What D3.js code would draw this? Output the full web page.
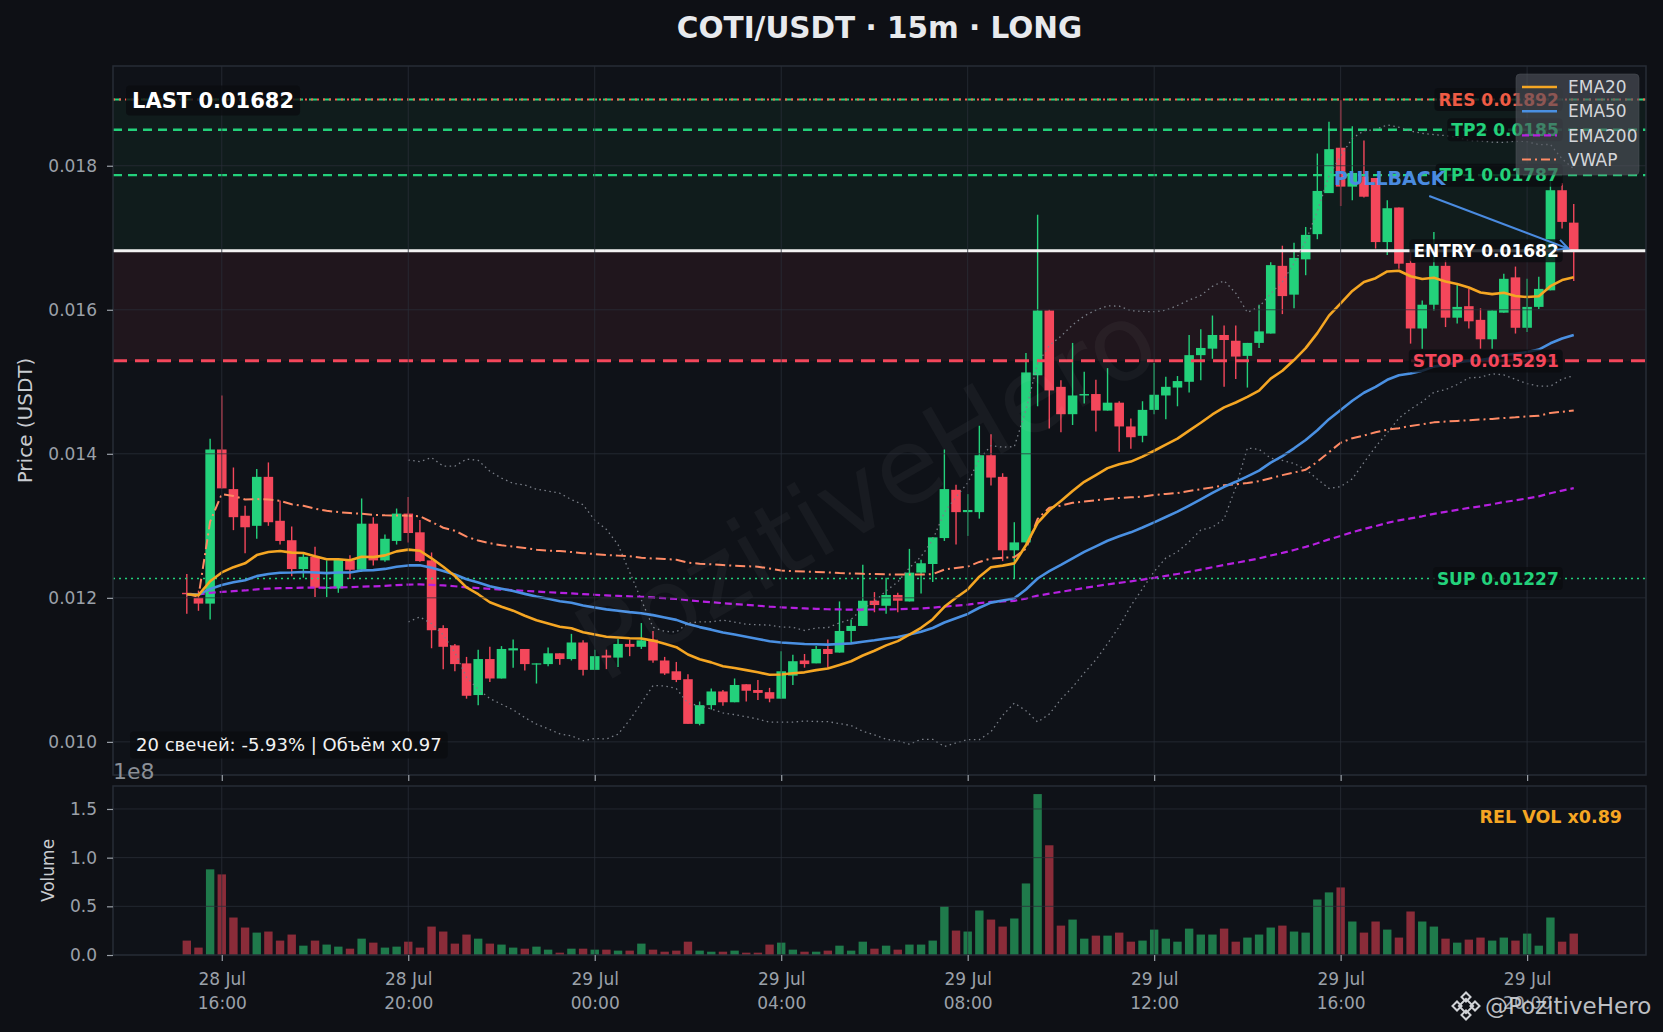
<!DOCTYPE html>
<html>
<head>
<meta charset="utf-8">
<title>COTI/USDT · 15m · LONG</title>
<script src="https://cdn.jsdelivr.net/npm/d3@7"></script>
<style>
  html, body { margin: 0; padding: 0; background: #0e1015; }
  svg { display: block; font-family: "DejaVu Sans", sans-serif; }
</style>
</head>
<body>
<svg id="chart" width="1663" height="1032"></svg>
<script>
// ---- data ----
const START = new Date(2025, 6, 28, 15, 15);   // first candle, 28 Jul 15:15
const STEP = 15 * 60 * 1000;                   // 15m candles

const opens = [
  0.01207, 0.01200, 0.01192, 0.01406, 0.01351, 0.01314, 0.01300, 0.01368, 0.01307, 0.01280,
  0.01240, 0.01257, 0.01213, 0.01213, 0.01252, 0.01239, 0.01303, 0.01252, 0.01279, 0.01317,
  0.01291, 0.01252, 0.01158, 0.01134, 0.01109, 0.01065, 0.01115, 0.01088, 0.01127, 0.01129,
  0.01108, 0.01108, 0.01123, 0.01115, 0.01138, 0.01100, 0.01120, 0.01117, 0.01136, 0.01132,
  0.01142, 0.01113, 0.01098, 0.01087, 0.01025, 0.01051, 0.01070, 0.01055, 0.01080, 0.01072,
  0.01069, 0.01060, 0.01092, 0.01113, 0.01109, 0.01129, 0.01124, 0.01154, 0.01161, 0.01196,
  0.01189, 0.01204, 0.01195, 0.01235, 0.01247, 0.01283, 0.01350, 0.01319, 0.01319, 0.01398,
  0.01368, 0.01266, 0.01277, 0.01509, 0.01599, 0.01493, 0.01455, 0.01481, 0.01483, 0.01460,
  0.01471, 0.01438, 0.01425, 0.01461, 0.01481, 0.01492, 0.01500, 0.01537, 0.01546, 0.01565,
  0.01557, 0.01536, 0.01554, 0.01567, 0.01661, 0.01621, 0.01670, 0.01705, 0.01762, 0.01825,
  0.01771, 0.01785, 0.01783, 0.01694, 0.01742, 0.01665, 0.01574, 0.01607, 0.01661, 0.01589,
  0.01605, 0.01586, 0.01559, 0.01596, 0.01645, 0.01575, 0.01604, 0.01627, 0.01766, 0.01721
];
const highs = [
  0.01233, 0.01210, 0.01421, 0.01481, 0.01381, 0.01328, 0.01379, 0.01388, 0.01335, 0.01299,
  0.01261, 0.01271, 0.01252, 0.01254, 0.01259, 0.01338, 0.01312, 0.01288, 0.01324, 0.01340,
  0.01308, 0.01263, 0.01162, 0.01136, 0.01118, 0.01128, 0.01132, 0.01133, 0.01142, 0.01129,
  0.01109, 0.01131, 0.01123, 0.01150, 0.01141, 0.01128, 0.01128, 0.01143, 0.01142, 0.01165,
  0.01154, 0.01118, 0.01111, 0.01094, 0.01056, 0.01074, 0.01072, 0.01088, 0.01080, 0.01086,
  0.01075, 0.01126, 0.01121, 0.01122, 0.01133, 0.01142, 0.01195, 0.01170, 0.01246, 0.01208,
  0.01228, 0.01207, 0.01268, 0.01253, 0.01284, 0.01406, 0.01357, 0.01344, 0.01439, 0.01427,
  0.01373, 0.01305, 0.01540, 0.01732, 0.01600, 0.01502, 0.01554, 0.01514, 0.01503, 0.01519,
  0.01473, 0.01449, 0.01473, 0.01526, 0.01507, 0.01508, 0.01565, 0.01573, 0.01592, 0.01578,
  0.01578, 0.01554, 0.01607, 0.01666, 0.01689, 0.01693, 0.01715, 0.01817, 0.01861, 0.01891,
  0.01855, 0.01835, 0.01783, 0.01752, 0.01742, 0.01683, 0.01613, 0.01708, 0.01669, 0.01635,
  0.01629, 0.01602, 0.01599, 0.01650, 0.01660, 0.01643, 0.01646, 0.01781, 0.01776, 0.01747
];
const lows = [
  0.01178, 0.01182, 0.01170, 0.01352, 0.01294, 0.01262, 0.01282, 0.01300, 0.01274, 0.01230,
  0.01228, 0.01201, 0.01201, 0.01207, 0.01226, 0.01236, 0.01245, 0.01250, 0.01274, 0.01277,
  0.01250, 0.01130, 0.01101, 0.01098, 0.01060, 0.01051, 0.01083, 0.01088, 0.01103, 0.01099,
  0.01081, 0.01105, 0.01107, 0.01113, 0.01092, 0.01100, 0.01101, 0.01104, 0.01119, 0.01129,
  0.01110, 0.01093, 0.01083, 0.01025, 0.01023, 0.01045, 0.01050, 0.01055, 0.01056, 0.01058,
  0.01055, 0.01060, 0.01079, 0.01103, 0.01109, 0.01103, 0.01124, 0.01138, 0.01161, 0.01180,
  0.01178, 0.01180, 0.01195, 0.01206, 0.01222, 0.01279, 0.01274, 0.01286, 0.01310, 0.01356,
  0.01251, 0.01227, 0.01277, 0.01466, 0.01435, 0.01430, 0.01440, 0.01470, 0.01431, 0.01460,
  0.01403, 0.01407, 0.01416, 0.01455, 0.01448, 0.01466, 0.01485, 0.01502, 0.01532, 0.01493,
  0.01504, 0.01492, 0.01547, 0.01567, 0.01594, 0.01602, 0.01648, 0.01698, 0.01762, 0.01744,
  0.01752, 0.01756, 0.01685, 0.01676, 0.01657, 0.01553, 0.01546, 0.01599, 0.01576, 0.01581,
  0.01574, 0.01546, 0.01546, 0.01596, 0.01567, 0.01569, 0.01601, 0.01627, 0.01713, 0.01640
];
const closes = [
  0.01205, 0.01192, 0.01406, 0.01352, 0.01312, 0.01298, 0.01368, 0.01305, 0.01279, 0.01240,
  0.01257, 0.01214, 0.01215, 0.01254, 0.01239, 0.01303, 0.01252, 0.01282, 0.01317, 0.01290,
  0.01251, 0.01155, 0.01132, 0.01108, 0.01064, 0.01115, 0.01088, 0.01129, 0.01130, 0.01108,
  0.01109, 0.01123, 0.01115, 0.01138, 0.01100, 0.01119, 0.01117, 0.01136, 0.01132, 0.01141,
  0.01113, 0.01095, 0.01086, 0.01025, 0.01051, 0.01070, 0.01055, 0.01079, 0.01071, 0.01068,
  0.01060, 0.01098, 0.01112, 0.01108, 0.01129, 0.01122, 0.01154, 0.01161, 0.01196, 0.01190,
  0.01204, 0.01196, 0.01235, 0.01248, 0.01284, 0.01351, 0.01319, 0.01322, 0.01398, 0.01367,
  0.01266, 0.01277, 0.01513, 0.01599, 0.01488, 0.01455, 0.01481, 0.01483, 0.01460, 0.01471,
  0.01438, 0.01423, 0.01461, 0.01482, 0.01493, 0.01501, 0.01537, 0.01547, 0.01565, 0.01558,
  0.01535, 0.01554, 0.01570, 0.01662, 0.01619, 0.01672, 0.01704, 0.01765, 0.01823, 0.01771,
  0.01790, 0.01757, 0.01694, 0.01741, 0.01664, 0.01574, 0.01607, 0.01661, 0.01589, 0.01604,
  0.01584, 0.01559, 0.01599, 0.01643, 0.01575, 0.01604, 0.01629, 0.01766, 0.01722, 0.01682
];
// volume in units of 1e8
const volumes = [
  0.148, 0.076, 0.880, 0.828, 0.385, 0.282, 0.230, 0.241, 0.148, 0.210,
  0.096, 0.148, 0.107, 0.086, 0.065, 0.168, 0.127, 0.076, 0.086, 0.137,
  0.076, 0.292, 0.241, 0.117, 0.210, 0.168, 0.117, 0.107, 0.076, 0.065,
  0.086, 0.055, 0.024, 0.065, 0.065, 0.055, 0.055, 0.045, 0.045, 0.117,
  0.055, 0.034, 0.045, 0.137, 0.045, 0.034, 0.034, 0.045, 0.024, 0.024,
  0.107, 0.127, 0.055, 0.034, 0.034, 0.045, 0.096, 0.045, 0.137, 0.065,
  0.096, 0.055, 0.107, 0.107, 0.148, 0.498, 0.251, 0.241, 0.457, 0.364,
  0.292, 0.375, 0.735, 1.653, 1.127, 0.302, 0.364, 0.168, 0.199, 0.199,
  0.230, 0.137, 0.148, 0.261, 0.168, 0.137, 0.271, 0.210, 0.210, 0.271,
  0.137, 0.179, 0.210, 0.282, 0.302, 0.241, 0.230, 0.570, 0.643, 0.694,
  0.344, 0.230, 0.344, 0.261, 0.179, 0.447, 0.344, 0.292, 0.168, 0.127,
  0.158, 0.179, 0.148, 0.179, 0.148, 0.220, 0.096, 0.385, 0.137, 0.220
];

// trade levels
const levelNames = ['RES', 'TP2', 'TP1', 'ENTRY', 'STOP', 'SUP'];
const levelValues = [0.01892, 0.0185, 0.01787, 0.01682, 0.015291, 0.01227];

const priceTicks = [0.010, 0.012, 0.014, 0.016, 0.018];
const volumeTicks = [0.0, 0.5, 1.0, 1.5];
const legendNames = ['EMA20', 'EMA50', 'EMA200', 'VWAP'];

const TITLE = 'COTI/USDT · 15m · LONG';
const LAST_TEXT = 'LAST 0.01682';
const STATS_TEXT = '20 свечей: -5.93% | Объём x0.97';
const RELVOL_TEXT = 'REL VOL x0.89';
const WATERMARK = 'PozitiveHero';

// ---- layout ----
const W = 1663, H = 1032;
const plotLeft = 113, plotRight = 1646;
const priceTop = 66, priceBottom = 775;
const volTop = 786, volBottom = 955;

const GREEN = '#23d17b';
const RED = '#f4475b';

const times = closes.map((_, i) => new Date(START.getTime() + i * STEP));

const x = d3.scaleTime()
  .domain([new Date(2025, 6, 28, 13, 40), new Date(2025, 6, 29, 22, 33)])
  .range([plotLeft, plotRight]);
const yPrice = d3.scaleLinear().domain([0.00954, 0.019385]).range([priceBottom, priceTop]);
const yVol = d3.scaleLinear().domain([0, 1.736]).range([volBottom, volTop]);

const slot = x(times[1]) - x(times[0]);

// ---- indicators, computed from the candles like the trading chart does ----
function ema(values, span) {
  const a = 2 / (span + 1);
  let prev = values[0];
  return values.map((v, i) => (prev = i === 0 ? v : a * v + (1 - a) * prev));
}

function vwap() {
  let pv = 0, vv = 0;
  return closes.map((c, i) => {
    const tp = (highs[i] + lows[i] + c) / 3;
    pv += tp * volumes[i];
    vv += volumes[i];
    return pv / vv;
  });
}

function bollinger(values, n, k) {
  return values.map((_, i) => {
    if (i < n - 1) return null;
    const win = values.slice(i - n + 1, i + 1);
    const m = d3.mean(win);
    const sd = d3.deviation(win);
    return { up: m + k * sd, lo: m - k * sd };
  });
}

const ema20 = ema(closes, 20);
const ema50 = ema(closes, 50);
const ema200 = ema(closes, 200);
const vw = vwap();
const bb = bollinger(closes, 20, 2);

// ---- drawing ----
const svg = d3.select('#chart');

svg.append('rect').attr('width', W).attr('height', H).attr('fill', '#0e1015');

// panel backgrounds
svg.append('rect')
  .attr('x', plotLeft).attr('y', priceTop)
  .attr('width', plotRight - plotLeft).attr('height', priceBottom - priceTop)
  .attr('fill', '#0f1218');
svg.append('rect')
  .attr('x', plotLeft).attr('y', volTop)
  .attr('width', plotRight - plotLeft).attr('height', volBottom - volTop)
  .attr('fill', '#0f1218');

svg.append('defs').append('clipPath').attr('id', 'price-clip')
  .append('rect')
  .attr('x', plotLeft).attr('y', priceTop)
  .attr('width', plotRight - plotLeft).attr('height', priceBottom - priceTop);

const pg = svg.append('g').attr('clip-path', 'url(#price-clip)');

const lvl = name => levelValues[levelNames.indexOf(name)];

// target zone (green) and risk zone (red)
pg.append('rect')
  .attr('x', plotLeft).attr('width', plotRight - plotLeft)
  .attr('y', yPrice(lvl('RES')))
  .attr('height', yPrice(lvl('ENTRY')) - yPrice(lvl('RES')))
  .attr('fill', GREEN).attr('opacity', 0.05);
pg.append('rect')
  .attr('x', plotLeft).attr('width', plotRight - plotLeft)
  .attr('y', yPrice(lvl('ENTRY')))
  .attr('height', yPrice(lvl('STOP')) - yPrice(lvl('ENTRY')))
  .attr('fill', RED).attr('opacity', 0.08);

// watermark
svg.append('text')
  .attr('transform', 'translate(866,490) rotate(-30)')
  .attr('text-anchor', 'middle')
  .attr('dy', '0.35em')
  .attr('font-size', 104)
  .attr('fill', '#ffffff')
  .attr('opacity', 0.035)
  .text(WATERMARK);

// volume bars
svg.append('g')
  .selectAll('rect')
  .data(volumes)
  .join('rect')
  .attr('x', (d, i) => x(times[i]) - slot * 0.36)
  .attr('width', slot * 0.72)
  .attr('y', d => yVol(d))
  .attr('height', d => yVol(0) - yVol(d))
  .attr('fill', (d, i) => closes[i] >= opens[i] ? '#1f7a4b' : '#8a2c39');

// candles
const candles = pg.append('g')
  .selectAll('g')
  .data(closes)
  .join('g');

candles.append('line')
  .attr('x1', (d, i) => x(times[i]))
  .attr('x2', (d, i) => x(times[i]))
  .attr('y1', (d, i) => yPrice(highs[i]))
  .attr('y2', (d, i) => yPrice(lows[i]))
  .attr('stroke', (d, i) => d >= opens[i] ? GREEN : RED)
  .attr('stroke-width', 1.4);

candles.append('rect')
  .attr('x', (d, i) => x(times[i]) - slot * 0.41)
  .attr('width', slot * 0.82)
  .attr('y', (d, i) => yPrice(Math.max(d, opens[i])))
  .attr('height', (d, i) => Math.max(1.2, Math.abs(yPrice(d) - yPrice(opens[i]))))
  .attr('fill', (d, i) => d >= opens[i] ? GREEN : RED);

// grid (drawn over the bars, under the lines)
const gridColor = '#2a2f39';
const hourTicks = x.ticks(d3.timeHour.every(4));

svg.append('g')
  .selectAll('line')
  .data(hourTicks)
  .join('line')
  .attr('x1', d => x(d)).attr('x2', d => x(d))
  .attr('y1', priceTop).attr('y2', priceBottom)
  .attr('stroke', gridColor).attr('stroke-width', 1).attr('opacity', 0.75);
svg.append('g')
  .selectAll('line')
  .data(hourTicks)
  .join('line')
  .attr('x1', d => x(d)).attr('x2', d => x(d))
  .attr('y1', volTop).attr('y2', volBottom)
  .attr('stroke', gridColor).attr('stroke-width', 1).attr('opacity', 0.75);
svg.append('g')
  .selectAll('line')
  .data(priceTicks)
  .join('line')
  .attr('x1', plotLeft).attr('x2', plotRight)
  .attr('y1', d => yPrice(d)).attr('y2', d => yPrice(d))
  .attr('stroke', gridColor).attr('stroke-width', 1).attr('opacity', 0.75);
svg.append('g')
  .selectAll('line')
  .data(volumeTicks.slice(1))
  .join('line')
  .attr('x1', plotLeft).attr('x2', plotRight)
  .attr('y1', d => yVol(d)).attr('y2', d => yVol(d))
  .attr('stroke', gridColor).attr('stroke-width', 1).attr('opacity', 0.75);

// level lines
const levelStyle = {
  RES:   { color: '#ff5a4a', dash: '2,4', width: 2 },
  TP2:   { color: GREEN, dash: '9,6', width: 2.4 },
  TP1:   { color: GREEN, dash: '9,6', width: 2.4 },
  ENTRY: { color: '#f2f2f2', dash: null, width: 3 },
  STOP:  { color: RED, dash: '14,8', width: 3 },
  SUP:   { color: GREEN, dash: '2,4', width: 1.5 }
};

// the upper edge of the target zone sits on the resistance line
pg.append('line')
  .attr('x1', plotLeft).attr('x2', plotRight)
  .attr('y1', yPrice(lvl('RES'))).attr('y2', yPrice(lvl('RES')))
  .attr('stroke', GREEN).attr('stroke-width', 2).attr('stroke-dasharray', '8,6');

pg.append('g')
  .selectAll('line')
  .data(levelNames)
  .join('line')
  .attr('x1', plotLeft).attr('x2', plotRight)
  .attr('y1', d => yPrice(lvl(d))).attr('y2', d => yPrice(lvl(d)))
  .attr('stroke', d => levelStyle[d].color)
  .attr('stroke-width', d => levelStyle[d].width)
  .attr('stroke-dasharray', d => levelStyle[d].dash);

// indicator lines
function drawSeries(values, color, width, dash) {
  const line = d3.line()
    .defined(d => d != null)
    .x((d, i) => x(times[i]))
    .y(d => yPrice(d));
  pg.append('path')
    .datum(values)
    .attr('d', line)
    .attr('fill', 'none')
    .attr('stroke', color)
    .attr('stroke-width', width)
    .attr('stroke-dasharray', dash)
    .attr('stroke-linejoin', 'round');
}

drawSeries(bb.map(b => b && b.up), '#7a7f88', 1.3, '1.5,3.5');
drawSeries(bb.map(b => b && b.lo), '#7a7f88', 1.3, '1.5,3.5');
drawSeries(vw, '#ff8a65', 2, '10,4,2,4');
drawSeries(ema200, '#b620e0', 2.2, '7,4');
drawSeries(ema50, '#4a90e2', 2.6, null);
drawSeries(ema20, '#f5a623', 2.6, null);

// panel borders
[[priceTop, priceBottom], [volTop, volBottom]].forEach(([t, b]) => {
  svg.append('rect')
    .attr('x', plotLeft).attr('y', t)
    .attr('width', plotRight - plotLeft).attr('height', b - t)
    .attr('fill', 'none').attr('stroke', '#272c36').attr('stroke-width', 1.5);
});

// axes
const tickColor = '#9ba1a9';

function styleAxis(g) {
  g.select('.domain').remove();
  g.selectAll('.tick line').attr('stroke', tickColor).attr('stroke-width', 1.2);
  g.selectAll('.tick text')
    .attr('fill', tickColor)
    .attr('font-size', 17)
    .attr('font-family', '"DejaVu Sans", sans-serif');
}

svg.append('g')
  .attr('transform', `translate(${plotLeft},0)`)
  .call(d3.axisLeft(yPrice).tickValues(priceTicks).tickFormat(d3.format('.3f')).tickSize(6).tickPadding(10))
  .call(styleAxis);

svg.append('g')
  .attr('transform', `translate(${plotLeft},0)`)
  .call(d3.axisLeft(yVol).tickValues(volumeTicks).tickFormat(d3.format('.1f')).tickSize(6).tickPadding(10))
  .call(styleAxis);

// tick marks only under the price panel
svg.append('g')
  .attr('transform', `translate(0,${priceBottom})`)
  .call(d3.axisBottom(x).ticks(d3.timeHour.every(4)).tickFormat('').tickSize(6))
  .call(styleAxis);

const fmtDay = d3.timeFormat('%d %b');
const fmtHour = d3.timeFormat('%H:%M');
const xAxis = svg.append('g')
  .attr('transform', `translate(0,${volBottom})`)
  .call(d3.axisBottom(x).ticks(d3.timeHour.every(4)).tickSize(6))
  .call(styleAxis);
xAxis.selectAll('.tick text')
  .attr('y', 0).attr('dy', null)
  .text(null)
  .each(function(d) {
    const t = d3.select(this);
    t.append('tspan').attr('x', 0).attr('y', 30).text(fmtDay(d));
    t.append('tspan').attr('x', 0).attr('y', 54).text(fmtHour(d));
  });

// offset text of the volume axis
svg.append('text')
  .attr('x', plotLeft).attr('y', 779)
  .attr('font-size', 22).attr('fill', '#8b9097')
  .text('1e8');

// axis titles
svg.append('text')
  .attr('transform', `translate(32,${(priceTop + priceBottom) / 2}) rotate(-90)`)
  .attr('text-anchor', 'middle')
  .attr('font-size', 20).attr('fill', '#c9ccd1')
  .text('Price (USDT)');
svg.append('text')
  .attr('transform', `translate(54,${(volTop + volBottom) / 2}) rotate(-90)`)
  .attr('text-anchor', 'middle')
  .attr('font-size', 17).attr('fill', '#c9ccd1')
  .text('Volume');

// title
svg.append('text')
  .attr('x', (plotLeft + plotRight) / 2).attr('y', 38)
  .attr('text-anchor', 'middle')
  .attr('font-size', 29.5).attr('font-weight', 'bold')
  .attr('fill', '#e8eaed')
  .text(TITLE);

// boxed text labels
function tag(text, px, py, color, opts) {
  const g = svg.append('g');
  const t = g.append('text')
    .attr('x', px).attr('y', py).attr('dy', '0.36em')
    .attr('text-anchor', opts.anchor || 'end')
    .attr('font-size', opts.size || 17)
    .attr('font-weight', opts.weight || 'bold')
    .attr('fill', color)
    .text(text);
  const b = t.node().getBBox();
  const padX = opts.padX || 4, padY = opts.padY || 1.5;
  g.insert('rect', 'text')
    .attr('x', b.x - padX).attr('y', b.y - padY)
    .attr('width', b.width + 2 * padX).attr('height', b.height + 2 * padY)
    .attr('rx', 4)
    .attr('fill', '#0a0c10').attr('opacity', 0.8);
  return g;
}

const labelColor = {
  RES: '#ef5b45', TP2: GREEN, TP1: GREEN, ENTRY: '#ffffff', STOP: RED, SUP: GREEN
};
const labelX = x(times[times.length - 1]) - 15;
levelNames.forEach(n => {
  tag(`${n} ${lvl(n)}`, labelX, yPrice(lvl(n)), labelColor[n], {});
});

tag(LAST_TEXT, 132, 100, '#ffffff', { anchor: 'start', size: 21, padX: 6, padY: 3 });
tag(STATS_TEXT, 136, 745, '#f2f2f2', { anchor: 'start', size: 18, weight: 'normal', padX: 6, padY: 3 });

// pullback annotation
svg.append('text')
  .attr('x', 1334).attr('y', 178).attr('dy', '0.36em')
  .attr('font-size', 19).attr('font-weight', 'bold')
  .attr('fill', '#4a8be0')
  .text('PULLBACK');

const arrowFrom = [new Date(2025, 6, 29, 17, 54), 0.01758];
const arrowTo = [new Date(2025, 6, 29, 20, 53), 0.01685];
const ax1 = x(arrowFrom[0]), ay1 = yPrice(arrowFrom[1]);
const ax2 = x(arrowTo[0]), ay2 = yPrice(arrowTo[1]);
const ang = Math.atan2(ay2 - ay1, ax2 - ax1);
const head = 12;
svg.append('path')
  .attr('d', `M${ax1},${ay1}L${ax2},${ay2}` +
    `M${ax2 - head * Math.cos(ang - 0.45)},${ay2 - head * Math.sin(ang - 0.45)}L${ax2},${ay2}` +
    `L${ax2 - head * Math.cos(ang + 0.45)},${ay2 - head * Math.sin(ang + 0.45)}`)
  .attr('fill', 'none')
  .attr('stroke', '#4a8be0')
  .attr('stroke-width', 2);

// relative volume note
svg.append('text')
  .attr('x', 1622).attr('y', 823)
  .attr('text-anchor', 'end')
  .attr('font-size', 17.5).attr('font-weight', 'bold')
  .attr('fill', '#f5a623')
  .text(RELVOL_TEXT);

// legend
const legendStyle = [
  { color: '#f5a623', dash: null, width: 2.5 },
  { color: '#4a90e2', dash: null, width: 2.5 },
  { color: '#b620e0', dash: '7,4', width: 2.2 },
  { color: '#ff8a65', dash: '9,4,2,4', width: 2 }
];
const legend = svg.append('g').attr('transform', 'translate(1516,74)');
legend.append('rect')
  .attr('width', 123).attr('height', 101).attr('rx', 4)
  .attr('fill', '#50545c').attr('opacity', 0.62)
  .attr('stroke', '#6a6e76').attr('stroke-opacity', 0.6);
const items = legend.selectAll('g')
  .data(legendNames)
  .join('g')
  .attr('transform', (d, i) => `translate(0,${13 + i * 24.2})`);
items.append('line')
  .attr('x1', 6).attr('x2', 41)
  .attr('stroke', (d, i) => legendStyle[i].color)
  .attr('stroke-width', (d, i) => legendStyle[i].width)
  .attr('stroke-dasharray', (d, i) => legendStyle[i].dash);
items.append('text')
  .attr('x', 52).attr('dy', '0.36em')
  .attr('font-size', 17).attr('fill', '#d4d6da')
  .text(d => d);

// signature with a small diamond logo
const sig = svg.append('g').attr('transform', 'translate(1466,1006)');
[[0, 0, 5], [0, -9, 3.2], [0, 9, 3.2], [-9, 0, 3.2], [9, 0, 3.2]].forEach(([dx, dy, s]) => {
  sig.append('rect')
    .attr('x', dx - s).attr('y', dy - s)
    .attr('width', 2 * s).attr('height', 2 * s)
    .attr('transform', `rotate(45,${dx},${dy})`)
    .attr('fill', 'none').attr('stroke', '#d0d2d6').attr('stroke-width', 2);
});
svg.append('text')
  .attr('x', 1485).attr('y', 1014)
  .attr('font-size', 23).attr('fill', '#d0d2d6').attr('opacity', 0.9)
  .text('@' + WATERMARK);
</script>
</body>
</html>
